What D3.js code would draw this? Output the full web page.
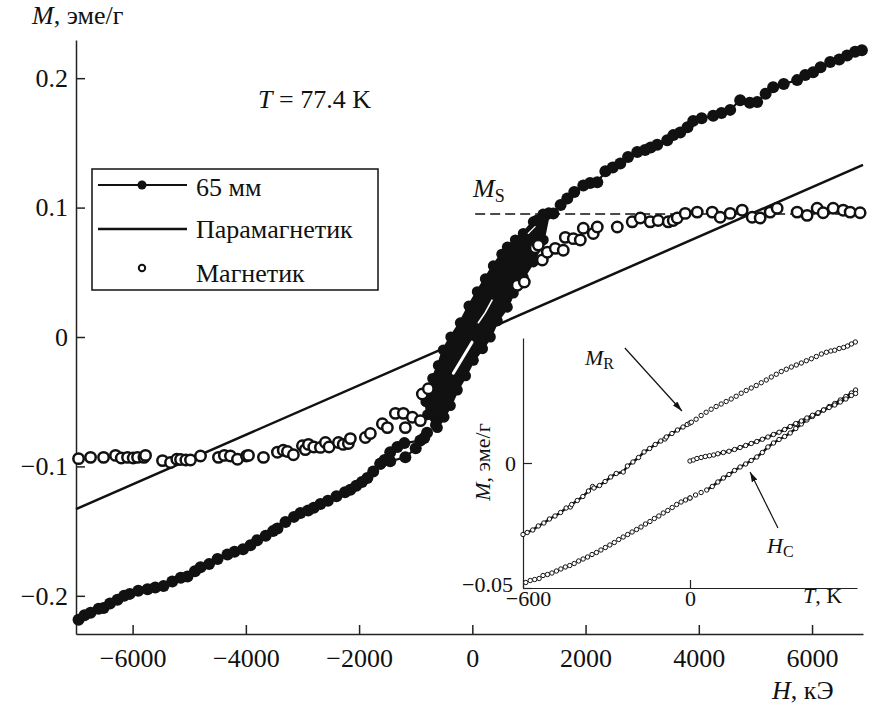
<!DOCTYPE html>
<html><head><meta charset="utf-8">
<script src="https://cdn.jsdelivr.net/npm/d3@7"></script>
<style>
body{margin:0;background:#fff}
svg{display:block}
</style>
</head><body>
<svg id="c" width="873" height="706" font-family="Liberation Serif"></svg>
<script>
// ---------------- DATA ----------------
const mainXTicks = [-6000,-4000,-2000,0,2000,4000,6000];
const mainYTicks = [-0.2,-0.1,0,0.1,0.2];
const insetXTicks = [-600,0];
const insetYTicks = [-0.05,0];

// 65 mm sample: lower-left branch (H, M)
const s65Lower = [[-6955,-0.2185],[-6850,-0.2150],[-6743,-0.2130],[-6600,-0.2100],[-6513,-0.2095],[-6400,-0.2060],[-6267,-0.2030],[-6150,-0.2000],[-6050,-0.1985],[-5900,-0.1960],[-5737,-0.1950],[-5600,-0.1935],[-5455,-0.1925],[-5300,-0.1890],[-5150,-0.1860],[-5031,-0.1850],[-4900,-0.1810],[-4801,-0.1780],[-4650,-0.1755],[-4500,-0.1715],[-4325,-0.1680],[-4200,-0.1660],[-4050,-0.1640],[-3919,-0.1610],[-3800,-0.1570],[-3650,-0.1535],[-3520,-0.1500],[-3442,-0.1480],[-3300,-0.1430],[-3150,-0.1390],[-3036,-0.1360],[-2900,-0.1340],[-2800,-0.1320],[-2683,-0.1290],[-2550,-0.1265],[-2400,-0.1230],[-2250,-0.1200],[-2154,-0.1180],[-2050,-0.1150],[-1950,-0.1120],[-1854,-0.1090],[-1750,-0.1040],[-1624,-0.0980],[-1550,-0.0950],[-1450,-0.0890],[-1324,-0.0850],[-1200,-0.0820],[-918,-0.0800],[-800,-0.0740]];
const s65Lower2 = [[-1624,-0.0980],[-1450,-0.0960],[-1183,-0.0930],[-1000,-0.0860],[-850,-0.0780]];
// 65 mm sample: upper-right branch
const s65Upper = [[1147,0.090],[1300,0.0945],[1430,0.0955],[1560,0.102],[1677,0.107],[1800,0.112],[1960,0.117],[2080,0.119],[2207,0.1195],[2350,0.128],[2480,0.131],[2613,0.134],[2750,0.139],[2913,0.143],[3050,0.1445],[3150,0.1465],[3266,0.1485],[3442,0.152],[3550,0.156],[3672,0.158],[3800,0.162],[3901,0.167],[4050,0.169],[4254,0.171],[4400,0.173],[4554,0.1755],[4731,0.183],[4900,0.181],[5031,0.1815],[5180,0.188],[5313,0.193],[5500,0.1955],[5737,0.1985],[5880,0.2025],[6019,0.2045],[6150,0.2085],[6320,0.2125],[6480,0.2145],[6620,0.2175],[6760,0.2205],[6880,0.2215]];
// 65 mm sample: dense central loop, outline (upper edge ascending, lower edge descending)
const loopUpperEdge = [[-650,-0.068],[-790,-0.060],[-820,-0.050],[-794,-0.043],[-700,-0.032],[-600,-0.022],[-512,-0.010],[-380,0.000],[-212,0.011],[-60,0.024],[88,0.035],[230,0.045],[371,0.055],[520,0.064],[618,0.0695],[760,0.075],[900,0.080],[1077,0.089],[1250,0.095]];
const loopLowerEdge = [[1350,0.096],[1253,0.075],[1077,0.058],[900,0.046],[724,0.034],[618,0.023],[441,0.0125],[318,0.000],[180,-0.009],[18,-0.018],[-120,-0.030],[-265,-0.041],[-388,-0.053],[-500,-0.062],[-618,-0.070]];
const loopSlitA = [[-335,-0.028],[-170,-0.016],[-5,-0.004]];
const loopSlitB = [[106,0.011],[230,0.019],[348,0.0285]];
const loopSlitC = [[988,0.080],[1112,0.0855]];

// Paramagnetic line and saturation level
const paraH = [-7000, 6900];
const paraM = [-0.133, 0.133];
const msH = [50, 6900];
const msM = 0.095;

// Magnetic component (open circles)
const magnet = [[-6955,-0.094],[-6743,-0.093],[-6513,-0.093],[-6302,-0.0915],[-6200,-0.0935],[-6090,-0.093],[-5990,-0.0935],[-5913,-0.093],[-5800,-0.093],[-5772,-0.0915],[-5472,-0.0955],[-5331,-0.097],[-5220,-0.0945],[-5154,-0.0947],[-5060,-0.095],[-4978,-0.095],[-4801,-0.092],[-4484,-0.093],[-4380,-0.0915],[-4272,-0.092],[-4148,-0.0945],[-3990,-0.092],[-3954,-0.0915],[-3689,-0.093],[-3442,-0.089],[-3340,-0.0875],[-3266,-0.0885],[-3160,-0.091],[-3001,-0.084],[-2950,-0.087],[-2895,-0.083],[-2800,-0.085],[-2683,-0.0853],[-2595,-0.0815],[-2530,-0.085],[-2365,-0.0815],[-2280,-0.083],[-2189,-0.0823],[-2154,-0.0785],[-1889,-0.0777],[-1801,-0.0746],[-1589,-0.067],[-1500,-0.070],[-1359,-0.059],[-1218,-0.059],[-1183,-0.070],[-1059,-0.062],[-918,-0.0646],[-883,-0.044],[-777,-0.040],
 [794,0.040],[918,0.0425],[1112,0.069],[1236,0.0595],[1165,0.071],[1324,0.0655],[1465,0.0685],[1606,0.067],[1642,0.077],[1783,0.076],[1907,0.075],[1960,0.084],[2136,0.080],[2207,0.085],[2560,0.085],[2824,0.089],[2966,0.092],[3142,0.089],[3283,0.090],[3460,0.089],[3548,0.090],[3619,0.092],[3760,0.0955],[3972,0.0965],[4237,0.0965],[4378,0.0925],[4554,0.0955],[4766,0.098],[4943,0.0925],[5084,0.092],[5260,0.0965],[5384,0.0995],[5737,0.0965],[5913,0.094],[6090,0.0995],[6196,0.096],[6373,0.0995],[6550,0.098],[6673,0.0965],[6849,0.096]];

// Inset (T, M)
const insetUpperLeft = [[-600,-0.0286],[-585,-0.0278],[-565,-0.0268],[-545,-0.0252],[-525,-0.0240],[-505,-0.0224],[-485,-0.0212],[-465,-0.0198],[-445,-0.0180],[-430,-0.0176],[-425,-0.0166],[-405,-0.0150],[-385,-0.0134],[-365,-0.0112],[-350,-0.0094],[-345,-0.0100],[-325,-0.0090],[-305,-0.0074],[-285,-0.0056],[-265,-0.0042],[-240,-0.0036],[-225,-0.0012],[-205,0.0004],[-185,0.0022],[-165,0.0044],[-145,0.0058],[-125,0.0074],[-105,0.0088],[-90,0.0096],[-85,0.0104],[-65,0.0118],[-45,0.0132],[-25,0.0144],[-10,0.0154],[0,0.0160]];
const insetUpperRight = [[5,0.0163],[22,0.0175],[40,0.0190],[58,0.0203],[76,0.0215],[94,0.0226],[112,0.0236],[130,0.0246],[148,0.0256],[166,0.0267],[184,0.0279],[202,0.0290],[220,0.0300],[238,0.0310],[256,0.0321],[274,0.0332],[292,0.0344],[310,0.0355],[328,0.0366],[346,0.0375],[364,0.0384],[382,0.0392],[400,0.0400],[418,0.0409],[436,0.0417],[454,0.0426],[472,0.0436],[490,0.0443],[506,0.0448],[520,0.0451],[536,0.0458],[552,0.0462],[566,0.0468],[580,0.0476],[594,0.0484]];
const insetLowerLeft = [[-590,-0.0478],[-574,-0.0470],[-558,-0.0466],[-542,-0.0462],[-528,-0.0450],[-512,-0.0446],[-496,-0.0440],[-480,-0.0432],[-464,-0.0424],[-448,-0.0416],[-432,-0.0410],[-416,-0.0402],[-400,-0.0392],[-384,-0.0384],[-368,-0.0376],[-352,-0.0366],[-336,-0.0358],[-320,-0.0348],[-304,-0.0338],[-288,-0.0328],[-272,-0.0318],[-256,-0.0306],[-240,-0.0296],[-224,-0.0286],[-208,-0.0276],[-192,-0.0266],[-176,-0.0256],[-160,-0.0244],[-144,-0.0234],[-128,-0.0222],[-112,-0.0212],[-96,-0.0200],[-80,-0.0190],[-64,-0.0178],[-48,-0.0166],[-32,-0.0156],[-16,-0.0148],[0,-0.0140]];
const insetLowerRight = [[0,-0.0140],[20,-0.0128],[40,-0.0118],[60,-0.0108],[80,-0.0094],[100,-0.0076],[120,-0.0060],[140,-0.0046],[160,-0.0030],[180,-0.0016],[200,-0.0004],[220,0.0010],[240,0.0024],[260,0.0042],[280,0.0064],[300,0.0080],[320,0.0094],[340,0.0106],[360,0.0120],[380,0.0138],[400,0.0156],[420,0.0172],[440,0.0186],[460,0.0198],[480,0.0212],[500,0.0226],[520,0.0238],[540,0.0252],[560,0.0266],[580,0.0280],[595,0.0292]];
const insetVirgin = [[0,0.0008],[12,0.0012],[25,0.0018],[40,0.0022],[55,0.0026],[70,0.0029],[85,0.0032],[100,0.0037],[120,0.0042],[140,0.0047],[160,0.0054],[180,0.0062],[200,0.0070],[220,0.0078],[240,0.0086],[260,0.0095],[280,0.0104],[300,0.0114],[320,0.0123],[340,0.0134],[360,0.0146],[380,0.0158],[400,0.0168],[420,0.0180],[440,0.0191],[460,0.0201],[480,0.0212],[500,0.0222],[520,0.0232],[540,0.0244],[560,0.0256],[580,0.0270],[595,0.0278]];
const arrowMR = [[-234,0.046],[-29,0.0208]];
const arrowHC = [[316,-0.026],[216,-0.0036]];

// ---------------- DRAW ----------------
const INK = "#111";
const FONT = "Liberation Serif";
const svg = d3.select("#c");
const x = d3.scaleLinear().domain([-7000,6900]).range([76,863]);
const y = d3.scaleLinear().domain([-0.2295,0.2295]).range([634,40]);
const xi = d3.scaleLinear().domain([-600,600]).range([523,857]);
const yi = d3.scaleLinear().domain([-0.05,0.05]).range([588,338]);
const fmt = d => d===0 ? "0" : String(d).replace("-","\u2212");

function styleAxis(g, size){
  g.attr("font-family", FONT).attr("font-size", size);
  g.selectAll("path.domain").attr("stroke", "#222").attr("stroke-width", 1.5);
  g.selectAll(".tick line").attr("stroke", "#222").attr("stroke-width", 1.5);
  g.selectAll(".tick text").attr("fill", INK).attr("font-family", FONT);
}

// main axes
svg.append("g").attr("transform","translate(0,634)")
  .call(d3.axisBottom(x).tickValues(mainXTicks).tickSize(-9).tickSizeOuter(0).tickPadding(14.5).tickFormat(fmt))
  .call(g=>styleAxis(g,26));
svg.append("g").attr("transform","translate(76,0)")
  .call(d3.axisLeft(y).tickValues(mainYTicks).tickSize(-9).tickSizeOuter(0).tickPadding(8).tickFormat(fmt))
  .call(g=>styleAxis(g,26));

const line = d3.line().x(d=>x(d[0])).y(d=>y(d[1]));

// paramagnetic line
svg.append("path").datum(paraH.map((h,i)=>[h,paraM[i]]))
  .attr("d", line).attr("fill","none").attr("stroke",INK).attr("stroke-width",2.5);
// Ms dashed
svg.append("path").datum(msH.map(h=>[h,msM]))
  .attr("d", line).attr("fill","none").attr("stroke",INK).attr("stroke-width",1.6).attr("stroke-dasharray","10,5");

// central loop (dense)
const loopPoly = loopUpperEdge.concat(loopLowerEdge);
svg.append("path").datum(loopPoly).attr("d", d=>line(d)+"Z").attr("fill",INK).attr("stroke",INK).attr("stroke-width",3).attr("stroke-linejoin","round");
svg.append("g").selectAll("circle").data(loopPoly).join("circle")
  .attr("cx",d=>x(d[0])).attr("cy",d=>y(d[1])).attr("r",5.5).attr("fill",INK);
[[loopSlitA,3],[loopSlitB,1.6],[loopSlitC,1.2]].forEach(([s,w])=>{
  svg.append("path").datum(s).attr("d",line).attr("fill","none").attr("stroke","#fff").attr("stroke-width",w).attr("stroke-linecap","round");
});

// 65 mm branches
[s65Lower, s65Lower2, s65Upper].forEach(s=>{
  svg.append("path").datum(s).attr("d",line).attr("fill","none").attr("stroke",INK).attr("stroke-width",2.2);
  svg.append("g").selectAll("circle").data(s).join("circle")
    .attr("cx",d=>x(d[0])).attr("cy",d=>y(d[1])).attr("r",6).attr("fill",INK);
});

// magnetic open circles
svg.append("g").selectAll("circle").data(magnet).join("circle")
  .attr("cx",d=>x(d[0])).attr("cy",d=>y(d[1])).attr("r",5.2)
  .attr("fill","#fff").attr("stroke",INK).attr("stroke-width",2.5);

// ---------- inset ----------
svg.append("g").attr("transform","translate(0,588)")
  .call(d3.axisBottom(xi).tickValues(insetXTicks).tickSize(-8).tickSizeOuter(0).tickPadding(2).tickFormat(fmt))
  .call(g=>styleAxis(g,22))
  .call(g=>g.selectAll(".tick line").attr("stroke-width",1.2))
  .call(g=>g.select("path.domain").attr("stroke-width",1.2))
  .call(g=>g.selectAll(".tick text").filter(d=>d<0).attr("dx",5));
svg.append("g").attr("transform","translate(523,0)")
  .call(d3.axisLeft(yi).tickValues(insetYTicks).tickSize(-9).tickSizeOuter(0).tickPadding(7).tickFormat(fmt))
  .call(g=>styleAxis(g,22))
  .call(g=>g.selectAll(".tick line").attr("stroke-width",1.2))
  .call(g=>g.select("path.domain").attr("stroke-width",1.2))
  .call(g=>g.selectAll(".tick text").filter(d=>d<0).attr("dy","0.15em").attr("dx",-3));

const iline = d3.line().x(d=>xi(d[0])).y(d=>yi(d[1]));
// dense strands
[[insetUpperLeft,2.4],[insetLowerRight.slice(3),2.4],[insetVirgin.slice(3),2.6]].forEach(([s,w])=>{
  svg.append("path").datum(s).attr("d",iline).attr("fill","none").attr("stroke",INK).attr("stroke-width",w);
});
[insetUpperLeft, insetUpperRight, insetLowerLeft, insetLowerRight, insetVirgin].forEach(s=>{
  svg.append("g").selectAll("circle").data(s).join("circle")
    .attr("cx",d=>xi(d[0])).attr("cy",d=>yi(d[1])).attr("r",2.2)
    .attr("fill","#fff").attr("stroke",INK).attr("stroke-width",1);
});

// arrows
const defs = svg.append("defs");
defs.append("marker").attr("id","ah").attr("viewBox","0 0 10 6").attr("refX",10).attr("refY",3)
  .attr("markerWidth",10).attr("markerHeight",6).attr("markerUnits","userSpaceOnUse").attr("orient","auto")
  .append("path").attr("d","M0,0L10,3L0,6Z").attr("fill",INK);
[arrowMR, arrowHC].forEach(a=>{
  svg.append("path").datum(a).attr("d",iline).attr("stroke",INK).attr("stroke-width",1.2).attr("fill","none").attr("marker-end","url(#ah)");
});

// ---------- legend ----------
const lg = svg.append("g");
lg.append("rect").attr("x",92).attr("y",169).attr("width",286).attr("height",121)
  .attr("fill","#fff").attr("stroke",INK).attr("stroke-width",1.5);
lg.append("line").attr("x1",98).attr("x2",187).attr("y1",185).attr("y2",185).attr("stroke",INK).attr("stroke-width",2.2);
lg.append("circle").attr("cx",142).attr("cy",185).attr("r",4.5).attr("fill",INK);
lg.append("line").attr("x1",98).attr("x2",187).attr("y1",229).attr("y2",229).attr("stroke",INK).attr("stroke-width",2.5);
lg.append("circle").attr("cx",142).attr("cy",268).attr("r",3.2).attr("fill","#fff").attr("stroke",INK).attr("stroke-width",2);
const legendLabels = ["65 мм","Парамагнетик","Магнетик"];
const legendBase = [196,238,282];
legendLabels.forEach((t,i)=>{
  lg.append("text").attr("x",196).attr("y",legendBase[i]).attr("font-size",26).attr("font-family",FONT).attr("fill",INK).text(t);
});

// ---------- labels ----------
function lab(xp,yp,size,parts,rot){
  const t = svg.append("text").attr("x",xp).attr("y",yp).attr("font-size",size).attr("font-family",FONT).attr("fill",INK);
  if(rot) t.attr("transform",`rotate(${rot},${xp},${yp})`).attr("text-anchor","middle");
  parts.forEach(p=>{
    const s = t.append("tspan").text(p.t);
    if(p.i) s.attr("font-style","italic");
    if(p.sub) s.attr("font-size",p.sub).attr("dy",p.dy||5);
  });
  return t;
}
lab(32,24,26,[{t:"M",i:1},{t:", эме/г"}]);
lab(772,699,26,[{t:"H",i:1},{t:", кЭ"}]);
lab(258,108,26,[{t:"T",i:1},{t:" = 77.4 K"}]);
lab(473,197,26,[{t:"M",i:1},{t:"S",sub:18,dy:5}]);
lab(585,365,22,[{t:"M",i:1},{t:"R",sub:16,dy:4}]);
lab(767,553,22,[{t:"H",i:1},{t:"C",sub:16,dy:4}]);
lab(803,603,22,[{t:"T",i:1},{t:", K"}]);
lab(490,462,22,[{t:"M",i:1},{t:", эме/г"}],-90);
</script>
</body></html>
